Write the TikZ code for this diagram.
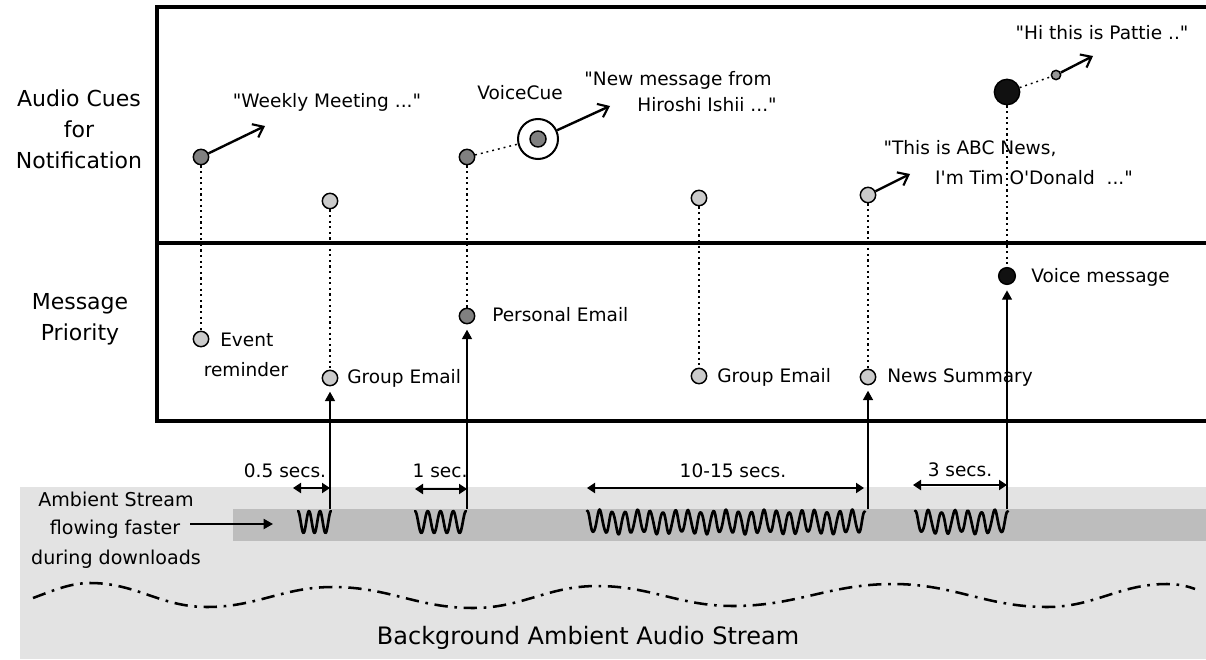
\documentclass[tikz,border=0pt]{standalone}
\usepackage{fontspec}
\newfontfamily\cf{DejaVu Sans}
\usetikzlibrary{arrows.meta}
\definecolor{bandlight}{RGB}{227,227,227}
\definecolor{banddark}{RGB}{189,189,189}
\definecolor{dotdark}{RGB}{128,128,128}
\definecolor{dotlight}{RGB}{203,203,203}
\definecolor{dotmid}{RGB}{150,150,150}
\definecolor{dotblack}{RGB}{17,17,17}
\begin{document}
\begin{tikzpicture}[x=0.75pt,y=-0.75pt,
  lbl/.style={font=\cf\fontsize{13.9pt}{16pt}\selectfont, inner sep=0pt, text height=10pt, text depth=3pt, anchor=center},
  lblw/.style={lbl, anchor=west},
  biglbl/.style={lbl, font=\cf\fontsize{16.5pt}{19pt}\selectfont, text height=12pt, text depth=3.5pt},
  midlbl/.style={lbl, font=\cf\fontsize{14.3pt}{17pt}\selectfont},
  bglbl/.style={lbl, font=\cf\fontsize{18pt}{21pt}\selectfont, text height=13pt, text depth=4pt},
  dotbase/.style={circle, draw=black, line width=1.1pt, minimum size=11.5pt, inner sep=0pt},
  darkdot/.style={dotbase, fill=dotdark},
  lightdot/.style={dotbase, fill=dotlight},
  blackdot/.style={dotbase, fill=dotblack},
  smalldot/.style={dotbase, fill=dotmid, minimum size=7pt},
  ring/.style={circle, draw=black, line width=1.5pt, fill=white, minimum size=30pt, inner sep=0pt},
  frame/.style={line width=3pt, line join=miter},
  cue/.style={line width=1.8pt, -{Straight Barb[length=7pt,width=11pt,line width=1.6pt]}},
  vdot/.style={line width=1.5pt, dash pattern=on 1.6pt off 2.6pt},
  dotl/.style={line width=1.1pt, dash pattern=on 1.4pt off 3pt},
  uparrow/.style={line width=1.1pt, -{Triangle[length=7pt,width=7.5pt]}, shorten >=4pt},
  dim/.style={line width=1.5pt, {Triangle[length=6pt,width=7.5pt]}-{Triangle[length=6pt,width=7.5pt]}},
  ambarrow/.style={line width=1.5pt, -{Triangle[length=7pt,width=7.5pt]}},
  squig/.style={line width=2pt, line join=round, line cap=round},
  dashwave/.style={line width=1.9pt, dash pattern=on 10pt off 5pt on 2pt off 5pt}
]
\useasboundingbox (0,0) rectangle (1206,660);

% bands
\fill[bandlight] (20,487) rectangle (1206,659);
\fill[banddark] (233,509) rectangle (1206,541);

% frame
\draw[frame] (1206,7) -- (157,7) -- (157,421) -- (1206,421);
\draw[frame] (157,242.5) -- (1206,242.5);

% left labels
\node[biglbl] (audio) at (79,101) {Audio Cues};
\node[biglbl] (for) at (79,132) {for};
\node[biglbl] (notif) at (79,163) {Notification};
\node[biglbl] (msg) at (80,304) {Message};
\node[biglbl] (prio) at (80,335) {Priority};

% top dots
\node[darkdot] (weekly) at (201,157) {};
\node[lightdot] (grptop) at (330,201) {};
\node[darkdot] (perstop) at (467,157) {};
\node[ring] (vcring) at (538,139) {};
\node[darkdot, minimum size=12pt] (vcin) at (538,139) {};
\node[lightdot] (grp2top) at (699,198) {};
\node[lightdot] (newstop) at (868,195) {};
\node[blackdot, minimum size=19pt] (voicetop) at (1007,92) {};
\node[smalldot] (pattie) at (1056,75) {};

% lower dots
\node[lightdot] (event) at (201,339) {};
\node[lightdot] (grp) at (330,378) {};
\node[darkdot] (pers) at (467,316) {};
\node[lightdot] (grp2) at (699,376) {};
\node[lightdot] (news) at (868,377) {};
\node[blackdot, minimum size=12.5pt] (voice) at (1007,276) {};

% top texts
\node[lbl] (tweekly) at (327,103) {"Weekly Meeting ..."};
\node[lbl] (tvc) at (520,95) {VoiceCue};
\node[lbl] (tnew1) at (678,81) {"New message from};
\node[lbl] (tnew2) at (707,107) {Hiroshi Ishii ..."};
\node[lbl] (tabc1) at (970,150) {"This is ABC News,};
\node[lbl] (tabc2) at (1034,180) {I'm Tim O'Donald\ \ ..."};
\node[lbl] (tpat) at (1102,35) {"Hi this is Pattie .."};

% lower texts
\node[lblw] (tevent1) at (220,342) {Event};
\node[lbl] (tevent2) at (246,372) {reminder};
\node[lblw] (tgrp) at (347,379) {Group Email};
\node[lblw] (tpers) at (492,317) {Personal Email};
\node[lblw] (tgrp2) at (717,378) {Group Email};
\node[lblw] (tnews) at (887,378) {News Summary};
\node[lblw] (tvoice) at (1031,278) {Voice message};

% band labels
\node[lbl] (t05) at (285,473) {0.5 secs.};
\node[lbl] (t1) at (440,473) {1 sec.};
\node[lbl] (t1015) at (733,473) {10-15 secs.};
\node[lbl] (t3) at (960,472) {3 secs.};
\node[midlbl] (amb1) at (116,502) {Ambient Stream};
\node[midlbl] (amb2) at (115,530) {flowing faster};
\node[midlbl] (amb3) at (116,560) {during downloads};
\node[bglbl] (bg) at (588,638) {Background Ambient Audio Stream};

% coordinates
\coordinate (weeklyTip) at (265,126);
\coordinate (vcTip) at (610,106);
\coordinate (newsTip) at (910,174);
\coordinate (patTip) at (1093,56);
\coordinate (bgrp) at (330,509);
\coordinate (bpers) at (467,509);
\coordinate (bnews) at (868,509);
\coordinate (bvoice) at (1007,509);
\coordinate (d05a) at (293,488);
\coordinate (d05b) at (330,488);
\coordinate (d1a) at (415,489);
\coordinate (d1b) at (467,489);
\coordinate (d10a) at (587,488);
\coordinate (d10b) at (864,488);
\coordinate (d3a) at (913,485);
\coordinate (d3b) at (1007,485);
\coordinate (ambA) at (190,524);
\coordinate (ambB) at (273,524);

% cue connectors
\draw[cue] (weekly) -- (weeklyTip);
\draw[dotl] (perstop) -- (vcring);
\draw[cue] (vcring) -- (vcTip);
\draw[cue] (newstop) -- (newsTip);
\draw[dotl] (voicetop) -- (pattie);
\draw[cue] (pattie) -- (patTip);

% vertical dotted links
\draw[vdot] (weekly) -- (event);
\draw[vdot] (grptop) -- (grp);
\draw[vdot] (perstop) -- (pers);
\draw[vdot] (grp2top) -- (grp2);
\draw[vdot] (newstop) -- (news);
\draw[vdot] (voicetop) -- (voice);

% arrows from stream
\draw[uparrow] (bgrp) -- (grp);
\draw[uparrow] (bpers) -- (pers);
\draw[uparrow] (bnews) -- (news);
\draw[uparrow] (bvoice) -- (voice);

% durations
\draw[dim] (d05a) -- (d05b);
\draw[dim] (d1a) -- (d1b);
\draw[dim] (d10a) -- (d10b);
\draw[dim] (d3a) -- (d3b);
\draw[ambarrow] (ambA) -- (ambB);

% squiggles
\draw[squig] plot[domain=298:331, samples=60] (\x, {522 - 11*cos((\x-298)/11*360)});
\draw[squig] plot[domain=415:466, samples=80] (\x, {522 - 11*cos((\x-415)/12.75*360)});
\draw[squig] plot[domain=587:865, samples=400] (\x, {522 - (11+1.5*sin((\x-587)*37))*cos((\x-587)/12.636*360)});
\draw[squig] plot[domain=915:1008, samples=140] (\x, {522 - (11+1.5*sin((\x-915)*37))*cos((\x-915)/13.286*360)});

% background dash-dot wave
\draw[dashwave] (33,598) .. controls (52,591) and (70,583) .. (90,583)
  .. controls (136.8,583) and (160.2,607) .. (207,607)
  .. controls (257.4,607) and (282.6,587) .. (333,587)
  .. controls (389,587) and (417,608) .. (473,608)
  .. controls (522.6,608) and (547.4,586) .. (597,586)
  .. controls (651.4,586) and (678.6,606) .. (733,606)
  .. controls (797,606) and (829,584) .. (893,584)
  .. controls (954.6,584) and (985.4,607) .. (1047,607)
  .. controls (1095,607) and (1119,584) .. (1167,584)
  .. controls (1178,584) and (1187,586) .. (1195,589);
\end{tikzpicture}
\end{document}
